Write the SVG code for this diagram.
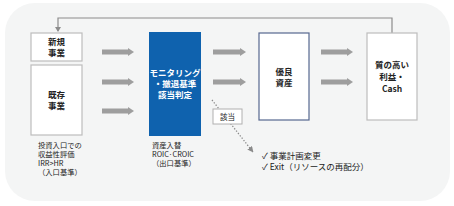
<svg xmlns="http://www.w3.org/2000/svg" width="454" height="206" viewBox="0 0 454 206">
<style>
.box{fill:#fff;stroke:#bdbdbd;stroke-width:1.2}
.t{font-family:"Noto Sans CJK JP","Noto Sans",sans-serif;fill:#222;}
.b{font-weight:bold;font-size:8.5px;text-anchor:middle}
.s{font-size:7.3px}
.w{fill:#fff}
.arr{fill:#9e9e9e}
</style>
<defs>
<marker id="ah" viewBox="0 0 10 10" refX="9" refY="5" markerWidth="6" markerHeight="6" orient="auto" markerUnits="userSpaceOnUse">
<path d="M0,0 L10,5 L0,10 z" fill="#8a8a8a"/>
</marker>
</defs>
<rect x="5" y="3" width="445" height="198" rx="30" fill="#f4f5f5"/>
<g id="connectors">
<polyline points="392,33 392,18 58,18 58,31" fill="none" stroke="#8c8c8c" stroke-width="1.2"/>
<path d="M55,27 L61,27 L58,32 z" fill="#8c8c8c"/>
<polygon class="arr" points="102,49.5 128,49.5 128,48 134,52 128,56 128,54.5 102,54.5"/>
<polygon class="arr" points="102,79.5 128,79.5 128,78 134,82 128,86 128,84.5 102,84.5"/>
<polygon class="arr" points="102,108.5 128,108.5 128,107 134,111 128,115 128,113.5 102,113.5"/>
<polygon class="arr" points="213,49.5 240,49.5 240,48 246,52 240,56 240,54.5 213,54.5"/>
<polygon class="arr" points="213,79.5 240,79.5 240,78 246,82 240,86 240,84.5 213,84.5"/>
<polygon class="arr" points="321,49.5 347,49.5 347,48 353,52 347,56 347,54.5 321,54.5"/>
<polygon class="arr" points="321,79.5 347,79.5 347,78 353,82 347,86 347,84.5 321,84.5"/>
<line x1="212" y1="100" x2="253" y2="152" stroke="#8a8a8a" stroke-width="1.3" stroke-dasharray="1.3,1.7" marker-end="url(#ah)"/>
</g>
<g id="new">
<rect class="box" x="31" y="33" width="51" height="28"/>
<text class="t b" x="56.5" y="45">新規</text>
<text class="t b" x="56.5" y="55.5">事業</text>
</g>
<g id="existing">
<rect class="box" x="31" y="65" width="51" height="70"/>
<text class="t b" x="56.5" y="98">既存</text>
<text class="t b" x="56.5" y="108.5">事業</text>
</g>
<g id="entry-note">
<text class="t s" x="38" y="147.5">投資入口での</text>
<text class="t s" x="38" y="156.5">収益性評価</text>
<text class="t s" x="38" y="165.5">IRR&gt;HR</text>
<text class="t s" x="38" y="174.5">（入口基準）</text>
</g>
<g id="monitor">
<rect x="149" y="32" width="52" height="104" fill="#0f62ae"/>
<text class="t b w" x="175" y="75.5" font-size="7">モニタリング</text>
<text class="t b w" x="175" y="86.5" font-size="7">・撤退基準</text>
<text class="t b w" x="175" y="97.5" font-size="7">該当判定</text>
</g>
<g id="exit-note">
<text class="t s" x="152" y="147.5">資産入替</text>
<text class="t s" x="152" y="156.5">ROIC·CROIC</text>
<text class="t s" x="152" y="165.5">（出口基準）</text>
</g>
<g id="good">
<rect x="259" y="33" width="50" height="87" fill="#fff" stroke="#56688f" stroke-width="1.2"/>
<text class="t b" x="284" y="75">優良</text>
<text class="t b" x="284" y="85.5">資産</text>
</g>
<g id="profit">
<rect class="box" x="367" y="33" width="50" height="87"/>
<text class="t b" x="392" y="68">質の高い</text>
<text class="t b" x="392" y="80">利益・</text>
<text class="t b" x="392" y="92">Cash</text>
</g>
<g id="applies">
<rect x="213" y="109" width="29" height="15" fill="#fff" stroke="#b0b0b0" stroke-width="1"/>
<text class="t" x="227.5" y="119.5" font-size="7.5" text-anchor="middle">該当</text>
</g>
<g id="actions">
<text class="t" x="262" y="159" font-size="8.5">✓ 事業計画変更</text>
<text class="t" x="262" y="170" font-size="8.5">✓ Exit（リソースの再配分）</text>
</g>
</svg>
